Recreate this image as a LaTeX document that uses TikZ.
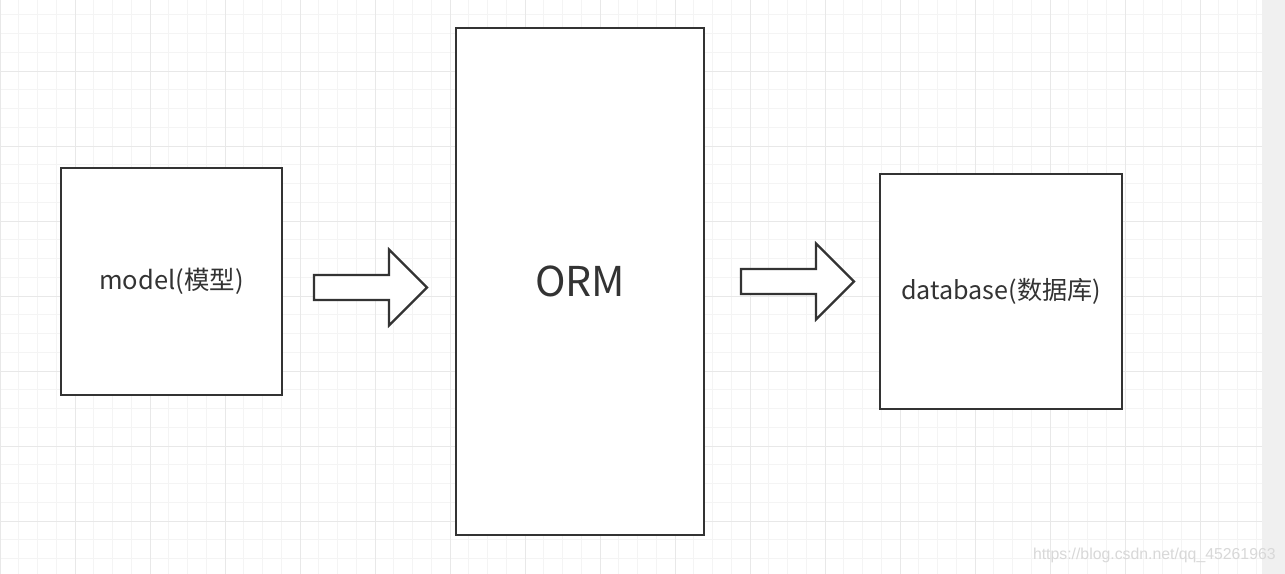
\documentclass[tikz,border=0pt]{standalone}
\usepackage{fontspec}
\newfontfamily\cjk{Noto Sans CJK SC}
\newfontfamily\markfont{Liberation Sans}
\definecolor{boxgray}{HTML}{333333}
\definecolor{gridminor}{HTML}{F4F4F4}
\definecolor{gridmajor}{HTML}{E8E8E8}
\definecolor{sidegray}{HTML}{F0F0F0}
\definecolor{markgray}{HTML}{D8D8D8}
\tikzset{
    box/.style={draw=boxgray, line width=1.25pt, fill=white, inner sep=0pt, text=boxgray, font=\cjk},
    blockarrow/.style={draw=boxgray, line width=1.25pt, fill=white, line join=miter},
    minorline/.style={draw=gridminor, line width=0.5pt},
    majorline/.style={draw=gridmajor, line width=0.5pt}
}
% hollow arrow, starting at the middle of its tail
\newcommand{\hollowarrow}[1]{%
    \draw[blockarrow] (#1) ++(0,-12.5) -- ++(75,0) -- ++(0,-25.5) -- ++(38,38)
        -- ++(-38,38) -- ++(0,-25.5) -- ++(-75,0) -- cycle;}
\begin{document}
\begin{tikzpicture}[x=0.02cm, y=-0.02cm]
    \useasboundingbox (0,0) rectangle (1285,574);
    \fill[white] (0,0) rectangle (1285,574);
    % grid
    \foreach \x in {0,18.75,...,1262} \draw[minorline] (\x,0) -- (\x,574);
    \foreach \y in {-4,14.75,...,574} \draw[minorline] (0,\y) -- (1262,\y);
    \foreach \x in {0,75,...,1260} \draw[majorline] (\x,0) -- (\x,574);
    \foreach \y in {71,146,...,574} \draw[majorline] (0,\y) -- (1262,\y);
    \fill[sidegray] (1262,0) rectangle (1285,574);
    % boxes
    \node[box, minimum width=4.42cm, minimum height=4.54cm, font=\cjk\fontsize{14.5}{17}\selectfont] (model) at (171.5,281.5) {model(模型)};
    \node[box, minimum width=4.96cm, minimum height=10.14cm, font=\cjk\fontsize{23.4}{28}\selectfont] (orm) at (580,281.5) {ORM};
    \node[box, minimum width=4.84cm, minimum height=4.70cm, font=\cjk\fontsize{14.3}{17}\selectfont] (db) at (1001,291.5) {database(数据库)};
    % arrows
    \coordinate (a1) at (314,287.5);
    \coordinate (a2) at (741,281.5);
    \hollowarrow{a1}
    \hollowarrow{a2}
    % watermark
    \node[anchor=east, inner sep=0pt, text=markgray, font=\markfont\fontsize{9}{11}\selectfont] (mark) at (1276,555) {https://blog.csdn.net/qq\_45261963};
\end{tikzpicture}
\end{document}
